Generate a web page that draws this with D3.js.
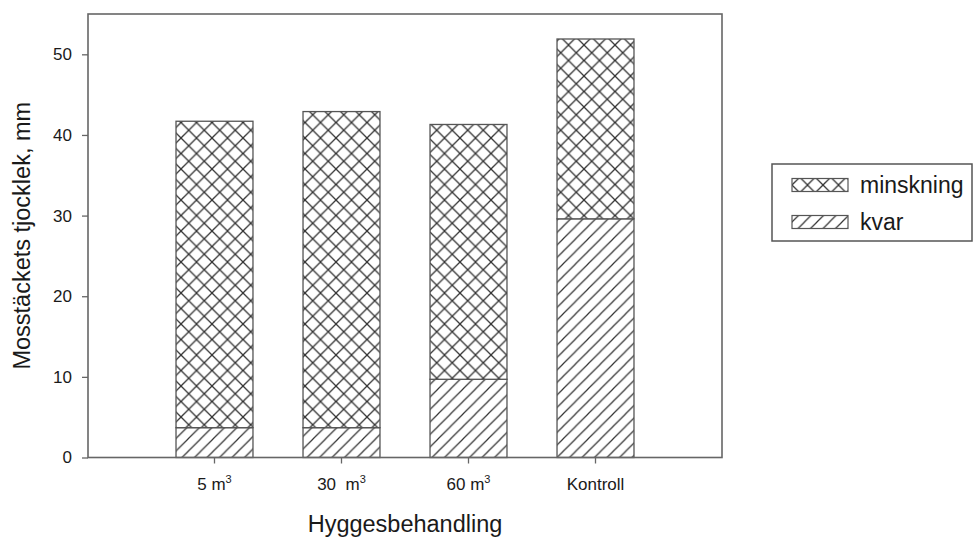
<!DOCTYPE html>
<html>
<head>
<meta charset="utf-8">
<script src="https://cdn.jsdelivr.net/npm/d3@7"></script>
<style>
  body { margin: 0; background: #fff; }
  text { font-family: "Liberation Sans", Arial, sans-serif; fill: #1a1a1a; }
</style>
</head>
<body>
<svg id="chart" width="976" height="538"></svg>
<script>
// values
var categories = ["5", "30", "60", "Kontroll"];
var tickBase = ["5 m", "30\u00a0\u00a0m", "60 m", "Kontroll"];
var tickSup = ["3", "3", "3", ""];
var kvar = [3.7, 3.7, 9.7, 29.6];
var minskning = [38.0, 39.2, 31.6, 22.3];
var yTicks = [0, 10, 20, 30, 40, 50];
var seriesNames = ["kvar", "minskning"];

var margin = {top: 14, left: 88},
    width = 634,
    height = 443.5;

var svg = d3.select("#chart");

// hatch patterns
var defs = svg.append("defs");
var cross = defs.append("pattern")
    .attr("id", "cross")
    .attr("patternUnits", "userSpaceOnUse")
    .attr("width", 15.5).attr("height", 15.5);
cross.append("rect").attr("width", 15.5).attr("height", 15.5).attr("fill", "#fff");
cross.append("path")
    .attr("d", "M0,0L15.5,15.5M0,15.5L15.5,0")
    .attr("stroke", "#333").attr("stroke-width", 1.3);

var diag = defs.append("pattern")
    .attr("id", "diag")
    .attr("patternUnits", "userSpaceOnUse")
    .attr("width", 12.5).attr("height", 12.5);
diag.append("rect").attr("width", 12.5).attr("height", 12.5).attr("fill", "#fff");
diag.append("path")
    .attr("d", "M0,12.5L12.5,0M-3,3L3,-3M9.5,15.5L15.5,9.5")
    .attr("stroke", "#333").attr("stroke-width", 1.2);

var fills = {kvar: "url(#diag)", minskning: "url(#cross)"};

var g = svg.append("g")
    .attr("transform", "translate(" + margin.left + "," + margin.top + ")");

var x = d3.scaleBand()
    .domain(categories)
    .range([0, width])
    .paddingInner(0.394)
    .paddingOuter(0.693);

var y = d3.scaleLinear()
    .domain([0, 55])
    .range([height, 0]);

var table = categories.map(function(c, i) {
    return {cat: c, kvar: kvar[i], minskning: minskning[i]};
});
var stacked = d3.stack().keys(seriesNames)(table);

g.selectAll("g.series")
    .data(stacked)
    .enter()
    .append("g")
        .attr("class", "series")
        .attr("fill", function(d) { return fills[d.key]; })
    .selectAll("rect")
    .data(function(d) { return d; })
    .enter()
    .append("rect")
        .attr("x", function(d) { return x(d.data.cat); })
        .attr("y", function(d) { return y(d[1]); })
        .attr("width", x.bandwidth())
        .attr("height", function(d) { return y(d[0]) - y(d[1]); })
        .attr("stroke", "#555")
        .attr("stroke-width", 1.3);

// frame
g.append("rect")
    .attr("width", width)
    .attr("height", height)
    .attr("fill", "none")
    .attr("stroke", "#666")
    .attr("stroke-width", 1.6);

// y axis
var yAxis = g.append("g")
    .call(d3.axisLeft(y).tickValues(yTicks).tickSize(6).tickPadding(10));
yAxis.select(".domain").remove();
yAxis.selectAll("line").attr("stroke", "#666").attr("stroke-width", 1.3);
yAxis.selectAll("text")
    .style("font-size", "17px")
    .style("font-family", "'Liberation Sans', Arial, sans-serif")
    .attr("fill", "#1a1a1a");

// x axis
var xAxis = g.append("g")
    .attr("transform", "translate(0," + height + ")")
    .call(d3.axisBottom(x).tickSize(6).tickFormat(""));
xAxis.select(".domain").remove();
xAxis.selectAll("line").attr("stroke", "#666").attr("stroke-width", 1.3);

var xl = g.selectAll("text.xlab")
    .data(categories)
    .enter()
    .append("text")
        .attr("class", "xlab")
        .attr("x", function(d) { return x(d) + x.bandwidth() / 2; })
        .attr("y", height + 32)
        .attr("text-anchor", "middle")
        .style("font-size", "17px");
xl.append("tspan").text(function(d, i) { return tickBase[i]; });
xl.append("tspan")
    .attr("dy", -7)
    .style("font-size", "11px")
    .text(function(d, i) { return tickSup[i]; });

// axis titles
svg.append("text")
    .attr("x", margin.left + width / 2)
    .attr("y", 532)
    .attr("text-anchor", "middle")
    .style("font-size", "23.5px")
    .text("Hyggesbehandling");

svg.append("text")
    .attr("transform", "translate(30," + (margin.top + height / 2) + ") rotate(-90)")
    .attr("text-anchor", "middle")
    .style("font-size", "23.5px")
    .text("Mosstäckets tjocklek, mm");

// legend
var legend = svg.append("g").attr("transform", "translate(772,164)");
legend.append("rect")
    .attr("width", 200).attr("height", 77)
    .attr("fill", "#fff").attr("stroke", "#555").attr("stroke-width", 1.5);

var legendKeys = ["minskning", "kvar"];
var item = legend.selectAll("g.item")
    .data(legendKeys)
    .enter()
    .append("g")
        .attr("class", "item")
        .attr("transform", function(d, i) { return "translate(20," + (21 + i * 37) + ")"; });
item.append("rect")
    .attr("y", -6.5)
    .attr("width", 56).attr("height", 13)
    .attr("fill", function(d) { return fills[d]; })
    .attr("stroke", "#555").attr("stroke-width", 1.2);
item.append("text")
    .attr("x", 68)
    .attr("y", 8)
    .style("font-size", "23px")
    .text(function(d) { return d; });
</script>
</body>
</html>
